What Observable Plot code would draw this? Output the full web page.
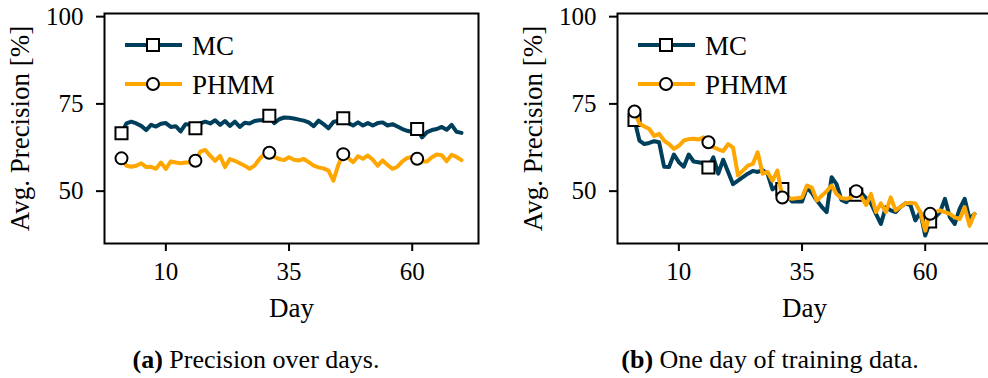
<!DOCTYPE html>
<html><head><meta charset="utf-8">
<script src="https://cdn.jsdelivr.net/npm/d3@7"></script>
<script src="https://cdn.jsdelivr.net/npm/@observablehq/plot@0.6"></script>
<style>
html,body{margin:0;padding:0;background:#fff;overflow:hidden;}
#root{position:relative;width:988px;height:378px;overflow:hidden;font-family:"Liberation Serif",serif;color:#000;}
.panel{position:absolute;top:0;}
.cap{position:absolute;top:347px;font-size:26px;white-space:nowrap;transform:translateX(-50%);line-height:1;}
#legend{position:absolute;left:0;top:0;}
</style></head><body><div id="root"></div>
<script>
// ---- data ----
const days = Array.from({length: 70}, (_, i) => i + 1);
const xTicks = [10, 35, 60];
const yTicks = [50, 75, 100];
const seriesNames = ["MC", "PHMM"];
const seriesColors = ["#003f5c", "#ffa600"];
const markEvery = 15;

// (a) Precision over days
const mcA = [66.6,69.4,69.9,69.4,68.7,67.5,69.0,68.5,69.3,69.5,
  68.4,68.6,67.1,69.2,69.0,68.0,69.4,69.9,69.4,70.3,
  69.0,70.1,68.7,69.9,68.4,69.6,69.4,70.1,70.3,70.3,
  71.6,69.5,70.6,71.1,71.0,70.8,70.5,70.2,69.7,68.6,
  70.2,69.2,68.0,69.8,70.2,70.9,69.5,68.8,69.7,68.8,
  69.5,68.8,69.5,69.7,68.8,69.2,68.5,67.8,67.3,66.9,
  67.8,65.4,66.9,67.5,67.8,68.4,67.6,69.0,67.0,66.7];
const phA = [59.4,57.3,57.0,57.3,58.0,56.9,57.0,56.4,58.2,56.4,
  58.5,58.2,58.0,58.2,58.2,58.7,61.3,61.8,60.1,58.7,
  60.1,56.9,59.2,58.7,58.0,57.3,56.4,57.3,59.2,60.6,
  61.0,59.8,59.2,58.9,59.7,59.0,58.8,59.2,58.3,57.3,
  56.8,56.5,55.9,53.0,57.5,60.6,59.5,58.3,60.0,59.3,
  60.2,59.0,57.3,58.8,57.5,56.4,57.0,58.5,59.5,59.8,
  59.3,58.5,58.5,59.7,60.5,60.3,58.6,60.4,59.8,58.9];

// (b) One day of training data
const mcB = [70.4,64.5,63.5,63.8,64.3,64.0,57.0,56.9,60.5,58.3,
  57.0,60.5,58.5,58.3,58.0,56.8,59.7,55.0,59.0,55.5,
  52.0,53.0,54.0,55.0,55.8,55.5,56.0,55.0,50.5,51.5,
  50.6,48.5,47.0,47.0,47.0,51.0,49.5,47.3,45.5,44.0,
  54.0,52.0,47.5,46.8,48.5,49.0,49.5,48.0,46.5,43.5,
  40.6,45.4,44.5,44.0,45.5,46.5,46.0,41.6,44.0,37.3,
  41.3,42.5,44.0,47.8,42.5,40.6,45.0,47.8,42.0,43.5];
const phB = [72.8,69.3,68.5,67.8,65.8,66.4,64.5,63.5,62.1,63.0,
  64.5,64.9,65.0,64.8,65.4,64.0,62.6,62.0,61.5,63.5,
  62.5,54.5,55.9,57.3,57.8,61.1,55.0,55.5,53.0,55.9,
  48.2,48.0,47.8,48.0,48.2,51.6,51.0,47.3,48.7,50.0,
  51.6,49.2,48.0,47.8,48.2,50.0,48.5,46.0,49.2,44.0,
  46.5,44.0,48.2,44.5,45.5,46.5,46.7,46.5,44.0,38.7,
  43.5,44.0,44.5,44.0,43.5,42.5,42.0,45.4,40.1,43.5];

const captions = [["(a)", " Precision over days."], ["(b)", " One day of training data."]];
const xLabel = "Day";
const yLabel = "Avg. Precision [%]";

// ---- drawing ----
const root = document.getElementById("root");
const FL = 104, FW = 374, FT = 13, FB = 243;
const panelLefts = [0, 513];
const captionCenters = [256, 770];

function rows(vals) { return days.map((d, i) => ({day: d, v: vals[i]})); }
function marks(vals) { return rows(vals).filter((r, i) => i % markEvery === 0); }

function panel(mc, ph, left) {
  const chart = Plot.plot({
    width: FL + FW + 12,
    height: 328,
    marginLeft: FL, marginTop: FT, marginRight: 12, marginBottom: 328 - FB,
    style: {fontFamily: "Liberation Serif, serif", fontSize: "25px", color: "#000", background: "transparent"},
    x: {domain: [-2.45, 73.45]},
    y: {domain: [35, 100.9]},
    marks: [
      Plot.line(rows(mc), {x: "day", y: "v", stroke: seriesColors[0], strokeWidth: 4, strokeLinejoin: "round"}),
      Plot.dot(marks(mc), {x: "day", y: "v", symbol: "square", r: 6.8, fill: "white", stroke: "black", strokeWidth: 2}),
      Plot.line(rows(ph), {x: "day", y: "v", stroke: seriesColors[1], strokeWidth: 4, strokeLinejoin: "round"}),
      Plot.dot(marks(ph), {x: "day", y: "v", symbol: "circle", r: 6, fill: "white", stroke: "black", strokeWidth: 2}),
      Plot.frame({stroke: "black", strokeWidth: 2}),
      Plot.axisX({ticks: xTicks, tickSize: 8, tickPadding: 11, strokeWidth: 2, fontSize: 25, label: null}),
      Plot.axisY({ticks: yTicks, tickSize: 8, tickPadding: 13, strokeWidth: 2, fontSize: 25, label: null}),
      Plot.text([xLabel], {frameAnchor: "bottom", lineAnchor: "middle", dy: 65, fontSize: 27, text: d => d}),
      Plot.text([yLabel], {frameAnchor: "left", textAnchor: "middle", lineAnchor: "middle", rotate: -90, dx: -84, fontSize: 27, text: d => d})
    ]
  });
  chart.classList.add("panel");
  chart.style.left = left + "px";
  root.appendChild(chart);
}
panel(mcA, phA, panelLefts[0]);
panel(mcB, phB, panelLefts[1]);

// legend overlay
const leg = d3.select(root).append("svg").attr("id", "legend").attr("width", 988).attr("height", 378);
panelLefts.forEach(pl => {
  const x0 = pl + FL + 21;
  seriesNames.forEach((name, i) => {
    const y = 45 + i * 39;
    const g = leg.append("g");
    g.append("line").attr("x1", x0).attr("x2", x0 + 57).attr("y1", y).attr("y2", y)
      .attr("stroke", seriesColors[i]).attr("stroke-width", 4);
    if (i === 0) {
      g.append("rect").attr("x", x0 + 22).attr("y", y - 6).attr("width", 12).attr("height", 12)
        .attr("fill", "white").attr("stroke", "black").attr("stroke-width", 2);
    } else {
      g.append("circle").attr("cx", x0 + 28).attr("cy", y).attr("r", 6)
        .attr("fill", "white").attr("stroke", "black").attr("stroke-width", 2);
    }
    g.append("text").attr("x", x0 + 67).attr("y", y + 10).text(name)
      .attr("font-family", "Liberation Serif, serif").attr("font-size", 27).attr("fill", "black");
  });
});

// captions
captions.forEach((c, i) => {
  const div = document.createElement("div");
  div.className = "cap";
  div.style.left = captionCenters[i] + "px";
  const b = document.createElement("b");
  b.textContent = c[0];
  div.appendChild(b);
  div.appendChild(document.createTextNode(c[1]));
  root.appendChild(div);
});
</script></body></html>
